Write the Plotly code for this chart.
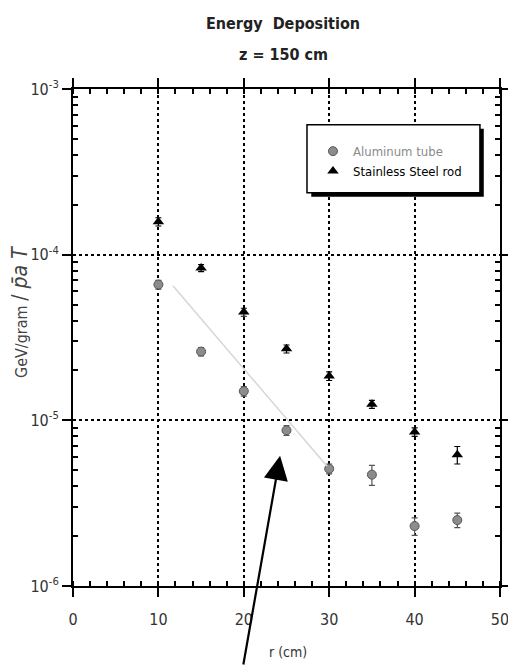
import plotly.graph_objects as go

# ---- data ----
r_cm = [10, 15, 20, 25, 30, 35, 40, 45]
aluminum = [6.6e-5, 2.6e-5, 1.5e-5, 8.7e-6, 5.1e-6, 4.7e-6, 2.3e-6, 2.5e-6]
aluminum_err = [4e-6, 1.5e-6, 1e-6, 6e-7, 3.5e-7, 6.5e-7, 2.8e-7, 2.5e-7]
steel = [1.58e-4, 8.3e-5, 4.5e-5, 2.7e-5, 1.85e-5, 1.25e-5, 8.5e-6, 6.2e-6]
steel_err = [9e-6, 4e-6, 2.5e-6, 1.5e-6, 1.1e-6, 7e-7, 5e-7, 7.5e-7]
x_ticks = [0, 10, 20, 30, 40, 50]
y_ticks = [1e-6, 1e-5, 1e-4, 1e-3]
y_ticktext = ["10<sup>-6</sup>", "10<sup>-5</sup>", "10<sup>-4</sup>", "10<sup>-3</sup>"]
y_minor = [m * d for d in (1e-6, 1e-5, 1e-4) for m in range(2, 10)]

FONT = "DejaVu Sans Condensed, Liberation Sans Narrow, Liberation Sans, sans-serif"

fig = go.Figure()
fig.add_trace(go.Scatter(
    x=r_cm, y=aluminum, mode="markers",
    name="<span style='color:#8a8a8a'>Aluminum tube</span>",
    marker=dict(symbol="circle", size=9, color="#8c8c8c",
                line=dict(color="#555555", width=1)),
    error_y=dict(type="data", array=aluminum_err, color="#555555",
                 thickness=1.2, width=3),
))
fig.add_trace(go.Scatter(
    x=r_cm, y=steel, mode="markers",
    name="Stainless Steel rod",
    marker=dict(symbol="triangle-up", size=10, color="black"),
    error_y=dict(type="data", array=steel_err, color="black",
                 thickness=1.2, width=3),
))

axis_common = dict(
    showline=True, linecolor="black", linewidth=2, mirror="ticks",
    ticks="outside", ticklen=9, tickwidth=1.5, tickcolor="black",
    showgrid=True, gridcolor="black", griddash="dot", gridwidth=1.5,
    zeroline=False, automargin=False, ticklabeloverflow="allow",
    tickfont=dict(family=FONT, size=16, color="#333333"),
)

fig.update_xaxes(
    range=[0, 50], tickvals=x_ticks, ticklabelstandoff=9,
    minor=dict(dtick=2, ticks="inside", ticklen=5, tickwidth=1.5,
               tickcolor="black", showgrid=False),
    **axis_common,
)
fig.update_yaxes(
    type="log", range=[-6, -3], tickvals=y_ticks, ticktext=y_ticktext,
    minor=dict(tickmode="array", tickvals=y_minor, ticks="inside", ticklen=5,
               tickwidth=1.5, tickcolor="black", showgrid=False),
    **axis_common,
)

# legend box with drop shadow
fig.add_shape(type="rect", xref="paper", yref="paper",
              x0=0.558, x1=0.962, y0=0.783, y1=0.920,
              fillcolor="black", line=dict(width=0), layer="above")
fig.add_shape(type="rect", xref="paper", yref="paper",
              x0=0.548, x1=0.953, y0=0.791, y1=0.928,
              fillcolor="white", line=dict(color="black", width=1.5), layer="above")

# faint diagonal pen line
fig.add_shape(type="line", xref="paper", yref="paper",
              x0=0.234, y0=0.604, x1=0.595, y1=0.241,
              line=dict(color="#d6d6d6", width=1.5))

# arrow
fig.add_annotation(xref="paper", yref="paper", x=0.485, y=0.262,
                   ax=-37, ay=211, text="", showarrow=True,
                   arrowhead=2, arrowsize=2.2, arrowwidth=2.2, arrowcolor="black")

# titles
fig.add_annotation(xref="paper", yref="paper", x=(283 - 73) / 427, y=(586 - 24) / 497,
                   xanchor="center", yanchor="middle",
                   text="<b>Energy  Deposition</b>", showarrow=False,
                   font=dict(family=FONT, size=16, color="#222222"))
fig.add_annotation(xref="paper", yref="paper", x=(283 - 73) / 427, y=(586 - 54) / 497,
                   xanchor="center", yanchor="middle",
                   text="<b>z = 150 cm</b>", showarrow=False,
                   font=dict(family=FONT, size=16, color="#222222"))

# x-axis title
fig.add_annotation(xref="paper", yref="paper", x=(288 - 73) / 427, y=(586 - 652) / 497,
                   xanchor="center", yanchor="middle",
                   text="r (cm)", showarrow=False,
                   font=dict(family=FONT, size=14, color="#333333"))

# y-axis title
fig.add_annotation(xref="paper", yref="paper", x=(20 - 73) / 427, y=(586 - 312) / 497,
                   xanchor="center", yanchor="middle",
                   text="GeV/gram <span style='font-size:21px'>/ <i>p̄a T</i></span>",
                   showarrow=False, textangle=-90,
                   font=dict(family=FONT, size=16, color="#444444"))

fig.update_layout(
    width=516, height=666,
    margin=dict(l=73, r=16, t=89, b=80),
    paper_bgcolor="white", plot_bgcolor="white",
    showlegend=True,
    legend=dict(x=0.562, y=0.905, xanchor="left", yanchor="top",
                bgcolor="rgba(0,0,0,0)", borderwidth=0,
                font=dict(family=FONT, size=13, color="black"),
                tracegroupgap=2),
)

fig.write_html("out.html", config={"displayModeBar": False},
               post_script="document.body.style.margin='0';document.body.style.overflow='hidden';")
